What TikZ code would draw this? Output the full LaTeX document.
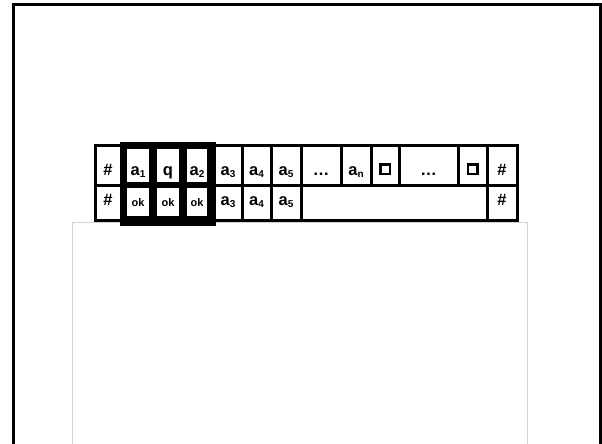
\documentclass[tikz,border=0pt]{standalone}
\usepackage{fontspec}
\setmainfont{Liberation Sans}
\newcommand{\sub}[1]{\raisebox{-2pt}{\fontsize{10}{10}\selectfont #1}}
\newcommand{\tmcell}[7][cell]{\node[#1, minimum width={#4-#2}, minimum height={#5-#3}] (#6) at ({(#2+#4)/2},{(#3+#5)/2}) {#7};}
\begin{document}
\begin{tikzpicture}[x=1pt,y=-1pt,
  cell/.style={draw, line width=3pt, inner sep=0pt, fill=white,
    font=\bfseries\fontsize{16.5}{16.5}\selectfont},
  inner/.style={fill=white, inner sep=0pt,
    font=\bfseries\fontsize{16.5}{16.5}\selectfont},
  okcell/.style={inner, font=\bfseries\fontsize{11}{11}\selectfont},
  rowone/.style={text height=19pt, text depth=0pt},
  rowtwo/.style={text height=5pt, text depth=0pt},
  okrow/.style={text height=8pt, text depth=0pt},
  blank/.style={draw, line width=2.5pt, minimum size=9.5pt, inner sep=0pt}]
\definecolor{panelgray}{HTML}{D3D3D3}
\useasboundingbox (0,0) rectangle (602,444);
\clip (0,0) rectangle (602,444);
% outer frame and lower panel
\draw[line width=3pt] (13.5,4.5) rectangle (600.5,470);
\draw[panelgray, line width=1pt] (72.5,222.5) rectangle (527.5,470);
% row 1
\tmcell[cell,rowone]{95}{145.5}{121}{185.5}{h1}{\#}
\tmcell[cell,rowone]{214}{145.5}{242}{185.5}{ra3}{a\sub{3}}
\tmcell[cell,rowone]{242}{145.5}{271}{185.5}{ra4}{a\sub{4}}
\tmcell[cell,rowone]{271}{145.5}{301}{185.5}{ra5}{a\sub{5}}
\tmcell[cell,rowone]{301}{145.5}{341}{185.5}{d1}{\dots}
\tmcell[cell,rowone]{341}{145.5}{371}{185.5}{ran}{a\sub{n}}
\tmcell[cell,rowone]{371}{145.5}{399}{185.5}{b1}{}
\tmcell[cell,rowone]{399}{145.5}{458}{185.5}{d2}{\dots}
\tmcell[cell,rowone]{458}{145.5}{487}{185.5}{b2}{}
\tmcell[cell,rowone]{487}{145.5}{517}{185.5}{h2}{\#}
% row 2
\tmcell[cell,rowtwo]{95}{185.5}{121}{220.5}{h3}{\#}
\tmcell[cell,rowtwo]{214}{185.5}{242}{220.5}{sa3}{a\sub{3}}
\tmcell[cell,rowtwo]{242}{185.5}{271}{220.5}{sa4}{a\sub{4}}
\tmcell[cell,rowtwo]{271}{185.5}{301}{220.5}{sa5}{a\sub{5}}
\tmcell[cell,rowtwo]{301}{185.5}{487}{220.5}{e}{}
\tmcell[cell,rowtwo]{487}{185.5}{517}{220.5}{h4}{\#}
% blank symbols
\node[blank] (sq1) at ([yshift=-3.5pt]b1.center) {};
\node[blank] (sq2) at ([yshift=-3.5pt]b2.center) {};
% head window
\fill (120,142) rectangle (216,226);
\tmcell[inner,rowone]{127}{149}{149}{182}{ra1}{a\sub{1}}
\tmcell[inner,rowone]{157}{149}{179}{182}{rq}{q}
\tmcell[inner,rowone]{187}{149}{207}{182}{ra2}{a\sub{2}}
\tmcell[okcell,okrow]{127}{188}{149}{216}{ok1}{ok}
\tmcell[okcell,okrow]{157}{188}{179}{216}{ok2}{ok}
\tmcell[okcell,okrow]{187}{188}{207}{216}{ok3}{ok}
\end{tikzpicture}
\end{document}
